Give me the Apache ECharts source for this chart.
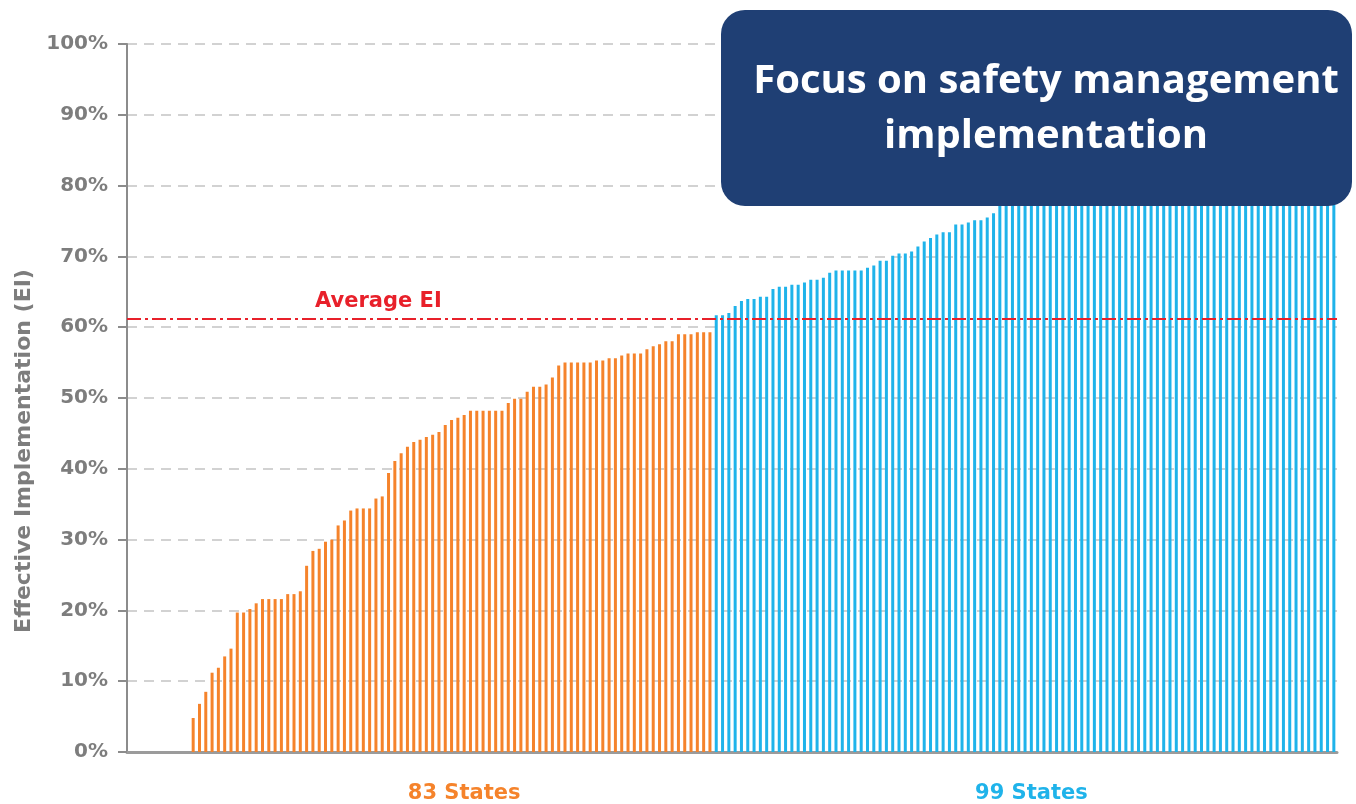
<!DOCTYPE html>
<html>
<head>
<meta charset="utf-8">
<script src="https://cdn.jsdelivr.net/npm/echarts@6/dist/echarts.min.js"></script>
<style>
html,body{margin:0;padding:0;background:#fff;}
#chart{width:1356px;height:804px;}
</style>
</head>
<body>
<div id="chart"></div>
<script>
// ---- data (Effective Implementation, % per State, sorted) ----
const orangeValues = [
  4.8, 6.8, 8.5, 11.2, 11.9, 13.5, 14.6, 19.7, 19.7, 20.2,
  21.0, 21.6, 21.6, 21.6, 21.6, 22.3, 22.3, 22.7, 26.3, 28.4,
  28.7, 29.7, 30.0, 32.0, 32.7, 34.1, 34.4, 34.4, 34.4, 35.8,
  36.1, 39.4, 41.1, 42.2, 43.1, 43.8, 44.1, 44.5, 44.8, 45.2,
  46.2, 46.9, 47.2, 47.6, 48.2, 48.2, 48.2, 48.2, 48.2, 48.2,
  49.3, 49.9, 49.9, 50.9, 51.6, 51.6, 51.9, 52.9, 54.6, 55.0,
  55.0, 55.0, 55.0, 55.0, 55.3, 55.3, 55.6, 55.6, 56.0, 56.3,
  56.3, 56.3, 56.9, 57.3, 57.6, 58.0, 58.0, 59.0, 59.0, 59.0,
  59.3, 59.3, 59.3
];
const blueValues = [
  61.7, 61.7, 62.0, 63.0, 63.7, 64.0, 64.0, 64.3, 64.3, 65.4,
  65.7, 65.7, 66.0, 66.0, 66.3, 66.7, 66.7, 67.0, 67.7, 68.0,
  68.0, 68.0, 68.0, 68.0, 68.4, 68.7, 69.4, 69.4, 70.1, 70.4,
  70.4, 70.7, 71.4, 72.1, 72.6, 73.1, 73.4, 73.4, 74.5, 74.5,
  74.8, 75.1, 75.1, 75.5, 76.1,
  77.8, 78.3, 78.9, 79.2, 79.6, 80.1, 80.5, 80.8, 81.4, 81.7,
  82.0, 82.6, 83.0, 83.3, 83.9, 84.2, 84.6, 85.1, 85.3, 85.8,
  86.2, 86.5, 87.0, 87.4, 87.6, 88.1, 88.5, 88.8, 89.3, 89.7,
  90.0, 90.4, 90.9, 91.2, 91.6, 92.0, 92.3, 92.8, 93.1, 93.5,
  93.9, 94.2, 94.6, 95.0, 95.3, 95.7, 96.0, 96.4, 96.7, 97.1,
  97.5, 97.9, 98.3, 98.8
];
const groupLabels = ['83 States', '99 States'];
const averageEI = 61.2;
const averageLabel = 'Average EI';
const yAxisName = 'Effective Implementation (EI)';
const calloutLines = ['Focus on safety management', 'implementation'];

// ---- layout helpers ----
const leadingSlots = 10;
const total = leadingSlots + orangeValues.length + blueValues.length;
const categories = [];
for (let i = 0; i < total; i++) categories.push('c' + i);
const orangeStart = leadingSlots;
const blueStart = leadingSlots + orangeValues.length;
const labelIdx = {};
labelIdx[orangeStart + 43] = 'o';
labelIdx[blueStart + 50] = 'b';

const orangeData = categories.map((c, i) =>
  (i >= orangeStart && i < blueStart) ? orangeValues[i - orangeStart] : null);
const blueData = categories.map((c, i) =>
  (i >= blueStart) ? blueValues[i - blueStart] : null);

const ORANGE = '#f5832b';
const BLUE = '#1fb3ea';
const GREY = '#7d7d7d';

const chart = echarts.init(document.getElementById('chart'), null, {renderer: 'canvas'});
chart.setOption({
  animation: false,
  backgroundColor: '#ffffff',
  grid: {left: 127, right: 19, top: 44, bottom: 52, containLabel: false},
  xAxis: {
    type: 'category',
    data: categories,
    boundaryGap: true,
    axisLine: {show: true, lineStyle: {color: '#9b9b9b', width: 3}},
    axisTick: {show: false},
    splitLine: {show: false},
    axisLabel: {
      interval: (i) => labelIdx[i] !== undefined,
      margin: 31,
      formatter: (v, i) => {
        if (labelIdx[i] === 'o') return '{o|' + groupLabels[0] + '}';
        if (labelIdx[i] === 'b') return '{b|' + groupLabels[1] + '}';
        return '';
      },
      rich: {
        o: {color: ORANGE, fontFamily: 'DejaVu Sans', fontWeight: 'bold', fontSize: 21},
        b: {color: BLUE, fontFamily: 'DejaVu Sans', fontWeight: 'bold', fontSize: 21}
      }
    }
  },
  yAxis: {
    type: 'value',
    min: 0, max: 100, interval: 10,
    name: yAxisName,
    nameLocation: 'middle',
    nameGap: 88,
    nameTextStyle: {color: GREY, fontFamily: 'DejaVu Sans', fontWeight: 'bold', fontSize: 22,
                    padding: [0, 106, 0, 0]},
    axisLine: {show: true, lineStyle: {color: '#8c8c8c', width: 2}},
    axisTick: {show: true, length: 9, lineStyle: {color: '#8c8c8c', width: 2}},
    axisLabel: {
      formatter: '{value}%', color: GREY, margin: 19,
      fontFamily: 'DejaVu Sans', fontWeight: 'bold', fontSize: 20
    },
    splitLine: {show: true, lineStyle: {color: '#d2d2d2', width: 2, type: [10, 7]}}
  },
  series: [
    {
      type: 'bar', name: 'below', data: orangeData, barWidth: 3, barGap: '-100%',
      itemStyle: {color: ORANGE},
      markLine: {
        silent: true, symbol: 'none',
        lineStyle: {color: '#e8202a', width: 2, type: [14, 4, 3, 4]},
        label: {
          show: true, position: 'insideStartTop', formatter: averageLabel,
          color: '#e8202a', fontFamily: 'DejaVu Sans', fontWeight: 'bold', fontSize: 21,
          padding: [0, 0, 0, 181], distance: 7
        },
        data: [{yAxis: averageEI}]
      }
    },
    {
      type: 'bar', name: 'above', data: blueData, barWidth: 3, barGap: '-100%',
      itemStyle: {color: BLUE}
    }
  ],
  graphic: [
    {
      type: 'rect', z: 100,
      shape: {x: 721, y: 10, width: 631, height: 196, r: 24},
      style: {fill: '#1f3f74'}
    },
    {
      type: 'text', z: 101, x: 1046, y: 82,
      style: {text: calloutLines[0], fill: '#ffffff', font: 'bold 40px "Open Sans"',
              textAlign: 'center', textVerticalAlign: 'middle'}
    },
    {
      type: 'text', z: 101, x: 1046, y: 137,
      style: {text: calloutLines[1], fill: '#ffffff', font: 'bold 40px "Open Sans"',
              textAlign: 'center', textVerticalAlign: 'middle'}
    }
  ]
});
</script>
</body>
</html>
